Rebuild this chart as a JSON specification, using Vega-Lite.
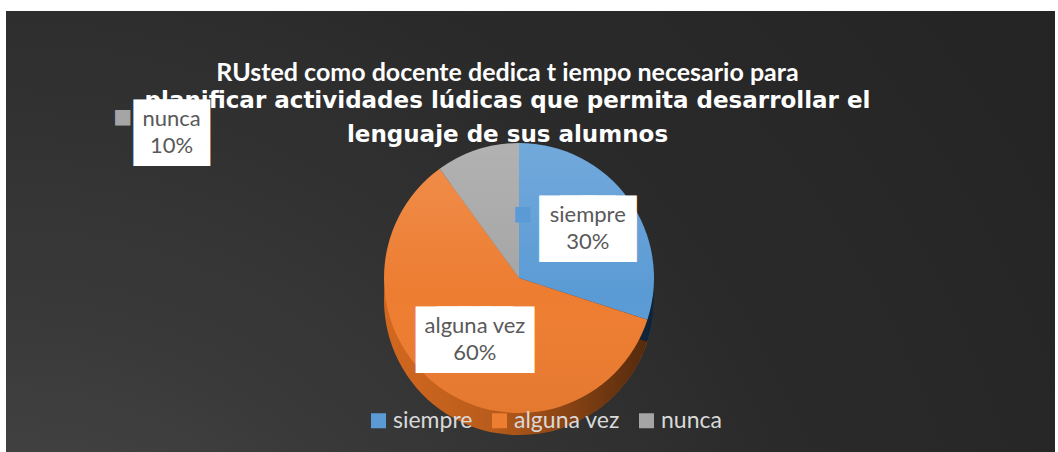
{
  "$schema": "https://vega.github.io/schema/vega-lite/v6.json",
  "width": 1058,
  "height": 452,
  "autosize": {"type": "fit", "contains": "padding"},
  "padding": {"left": 6, "top": 11, "right": 3, "bottom": 0},
  "background": "#ffffff",
  "config": {
    "view": {"stroke": null},
    "legend": {
      "orient": "none",
      "legendX": 361,
      "legendY": 398,
      "direction": "horizontal",
      "symbolType": "square",
      "symbolSize": 225,
      "symbolStrokeWidth": 0,
      "labelFont": "Lato",
      "labelFontSize": 23,
      "labelColor": "#d9d9d9",
      "labelOffset": 3,
      "columnPadding": 15,
      "padding": 0
    }
  },
  "title": {
    "text": "RUsted como docente dedica t iempo necesario para",
    "subtitle": ["planificar actividades lúdicas  que permita desarrollar el", "lenguaje de  sus alumnos"],
    "anchor": "middle",
    "frame": "group",
    "orient": "top",
    "offset": -136,
    "dx": -23,
    "font": "Lato",
    "fontSize": 25,
    "fontWeight": "bold",
    "color": "#ffffff",
    "subtitleFont": "DejaVu Sans",
    "subtitleFontSize": 23,
    "subtitleFontWeight": "bold",
    "subtitleColor": "#ffffff",
    "subtitleLineHeight": 34,
    "subtitlePadding": 4
  },
  "data": {
    "values": [
      {"categoria": "siempre", "valor": 0.3, "orden": 1},
      {"categoria": "alguna vez", "valor": 0.6, "orden": 2},
      {"categoria": "nunca", "valor": 0.1, "orden": 3}
    ]
  },
  "layer": [
    {
      "transform": [{"aggregate": [{"op": "sum", "field": "valor", "as": "total"}]}],
      "mark": {
        "type": "rect",
        "fill": {
          "gradient": "radial",
          "x1": 0, "y1": 1, "r1": 0,
          "x2": 0, "y2": 1, "r2": 1.15,
          "stops": [
            {"offset": 0, "color": "#525252"},
            {"offset": 0.35, "color": "#3a3a3a"},
            {"offset": 0.7, "color": "#2a2a2a"},
            {"offset": 1, "color": "#252525"}
          ]
        }
      },
      "encoding": {
        "x": {"value": 0},
        "x2": {"value": "width"},
        "y": {"value": 0},
        "y2": {"value": "height"}
      }
    },
    {
      "mark": {"type": "arc", "radius": 135, "xOffset": -11.5, "yOffset": 68.5, "stroke": null},
      "encoding": {
        "theta": {"field": "valor", "type": "quantitative", "stack": true},
        "order": {"field": "orden", "type": "quantitative"},
        "color": {
          "field": "categoria", "type": "nominal",
          "scale": {"domain": ["siempre", "alguna vez", "nunca"], "range": ["#2b5a8a", "#d2681f", "#7b7b7b"]},
          "legend": null
        }
      }
    },
    {
      "transform": [{"aggregate": [{"op": "sum", "field": "valor", "as": "valor"}]}],
      "mark": {
        "type": "arc", "radius": 135, "xOffset": -11.5, "yOffset": 68.5, "stroke": null,
        "fill": {
          "gradient": "linear", "x1": 0, "y1": 0, "x2": 1, "y2": 0,
          "stops": [
            {"offset": 0, "color": "rgba(0,0,0,0)"},
            {"offset": 0.4, "color": "rgba(0,0,0,0.12)"},
            {"offset": 1, "color": "rgba(0,0,0,0.62)"}
          ]
        }
      },
      "encoding": {"theta": {"field": "valor", "type": "quantitative", "stack": true}}
    },
    {
      "mark": {"type": "arc", "radius": 135, "xOffset": -11.5, "yOffset": 46.5, "stroke": null},
      "encoding": {
        "theta": {"field": "valor", "type": "quantitative", "stack": true},
        "order": {"field": "orden", "type": "quantitative"},
        "color": {
          "field": "categoria", "type": "nominal",
          "scale": {"domain": ["siempre", "alguna vez", "nunca"], "range": ["#5b9bd5", "#ed7d31", "#a5a5a5"]},
          "legend": {"title": null}
        }
      }
    },
    {
      "transform": [{"aggregate": [{"op": "sum", "field": "valor", "as": "valor"}]}],
      "mark": {
        "type": "arc", "radius": 135, "xOffset": -11.5, "yOffset": 46.5, "stroke": null,
        "fill": {
          "gradient": "linear", "x1": 0, "y1": 0, "x2": 0, "y2": 1,
          "stops": [
            {"offset": 0, "color": "rgba(255,255,255,0.14)"},
            {"offset": 0.55, "color": "rgba(255,255,255,0)"},
            {"offset": 1, "color": "rgba(0,0,0,0.04)"}
          ]
        }
      },
      "encoding": {"theta": {"field": "valor", "type": "quantitative", "stack": true}}
    },
    {
      "mark": {
        "type": "text", "font": "DejaVu Sans", "fontSize": 27.4, "fill": "#ffffff",
        "stroke": "#ffffff", "strokeWidth": 34, "strokeJoin": "miter",
        "align": "center", "baseline": "middle", "xOffset": -11.5, "yOffset": 46.5,
        "radius": {"expr": "datum.categoria === 'siempre' ? 85 : datum.categoria === 'alguna vez' ? 75 : 150"},
        "dx": {"expr": "datum.categoria === 'nunca' ? -301 : 0"},
        "dy": {"expr": "datum.categoria === 'nunca' ? -1 : 2"}
      },
      "encoding": {
        "theta": {"field": "valor", "type": "quantitative", "stack": true},
        "order": {"field": "orden", "type": "quantitative"},
        "text": {
          "condition": [
            {"test": "datum.categoria === 'siempre'", "value": "███"},
            {"test": "datum.categoria === 'alguna vez'", "value": "████"}
          ],
          "value": "██"
        }
      }
    },
    {
      "mark": {
        "type": "text", "font": "Lato", "fontSize": 22, "fill": "#595959",
        "align": "center", "baseline": "middle", "xOffset": -11.5, "yOffset": 46.5,
        "radius": {"expr": "datum.categoria === 'siempre' ? 85 : datum.categoria === 'alguna vez' ? 75 : 150"},
        "dx": {"expr": "datum.categoria === 'nunca' ? -301 : 0"},
        "dy": {"expr": "datum.categoria === 'nunca' ? -16 : -13"}
      },
      "encoding": {
        "theta": {"field": "valor", "type": "quantitative", "stack": true},
        "order": {"field": "orden", "type": "quantitative"},
        "text": {"field": "categoria", "type": "nominal"}
      }
    },
    {
      "mark": {
        "type": "text", "font": "Lato", "fontSize": 22, "fill": "#595959",
        "align": "center", "baseline": "middle", "xOffset": -11.5, "yOffset": 46.5,
        "radius": {"expr": "datum.categoria === 'siempre' ? 85 : datum.categoria === 'alguna vez' ? 75 : 150"},
        "dx": {"expr": "datum.categoria === 'nunca' ? -301 : 0"},
        "dy": {"expr": "datum.categoria === 'nunca' ? 11 : 14"}
      },
      "encoding": {
        "theta": {"field": "valor", "type": "quantitative", "stack": true},
        "order": {"field": "orden", "type": "quantitative"},
        "text": {"field": "valor", "type": "quantitative", "format": ".0%"}
      }
    },
    {
      "mark": {
        "type": "text", "font": "DejaVu Sans", "fontSize": 20,
        "align": "center", "baseline": "middle", "xOffset": -11.5, "yOffset": 46.5,
        "radius": {"expr": "datum.categoria === 'siempre' ? 85 : datum.categoria === 'alguna vez' ? 75 : 150"},
        "dx": {"expr": "datum.categoria === 'siempre' ? -65 : datum.categoria === 'alguna vez' ? -72 : -350"},
        "dy": {"expr": "datum.categoria === 'siempre' ? -14 : datum.categoria === 'alguna vez' ? -15 : -18"}
      },
      "encoding": {
        "theta": {"field": "valor", "type": "quantitative", "stack": true},
        "order": {"field": "orden", "type": "quantitative"},
        "text": {"value": "■"},
        "color": {
          "field": "categoria", "type": "nominal",
          "scale": {"domain": ["siempre", "alguna vez", "nunca"], "range": ["#5b9bd5", "#ed7d31", "#a5a5a5"]},
          "legend": null
        }
      }
    }
  ],
  "resolve": {"scale": {"color": "independent"}}
}
